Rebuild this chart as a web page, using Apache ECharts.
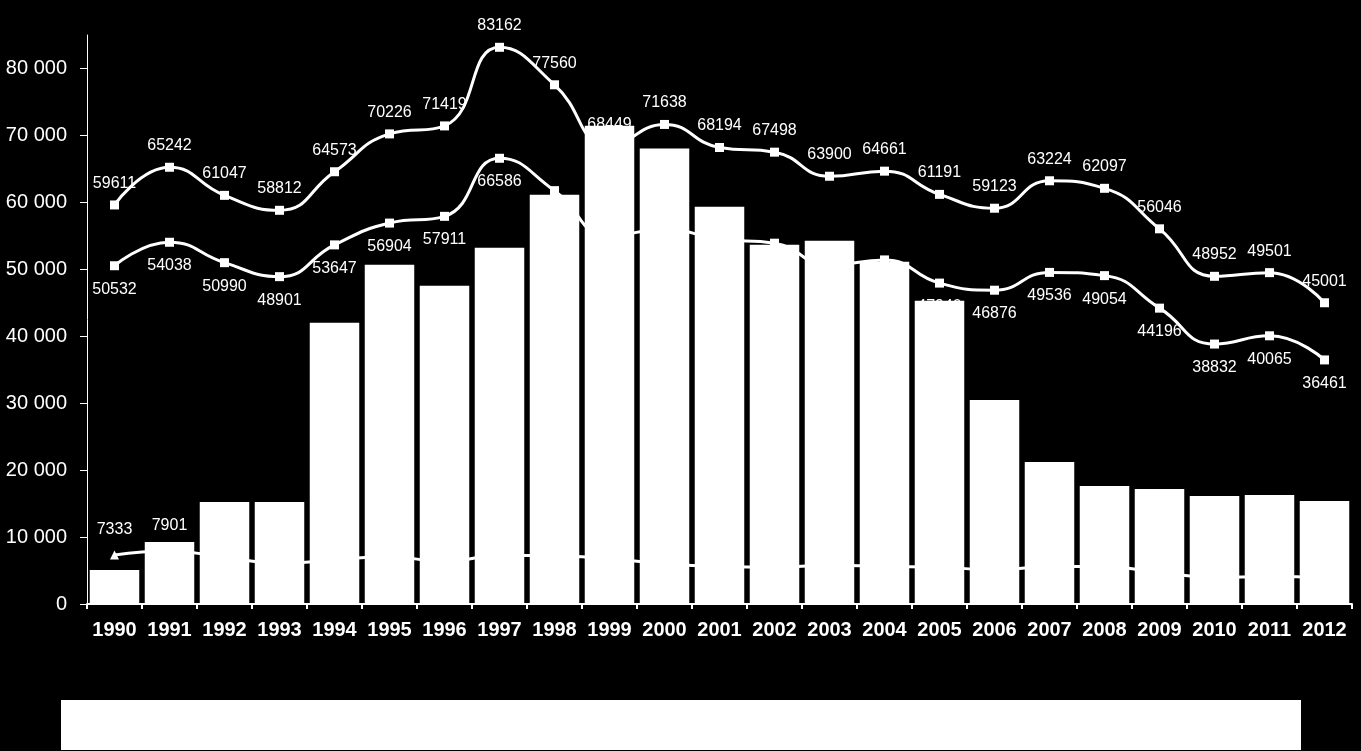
<!DOCTYPE html>
<html>
<head>
<meta charset="utf-8">
<style>
  html, body { margin: 0; padding: 0; background: #000; }
  #chart { width: 1361px; height: 751px; }
</style>
<script src="https://cdn.jsdelivr.net/npm/echarts@6/dist/echarts.min.js"></script>
</head>
<body>
<div id="chart"></div>
<script>
const years = ['1990','1991','1992','1993','1994','1995','1996','1997','1998','1999','2000','2001','2002','2003','2004','2005','2006','2007','2008','2009','2010','2011','2012'];
const barValues = [5080, 9270, 15250, 15250, 42000, 50670, 47530, 53200, 61140, 71450, 68050, 59340, 53660, 54260, 51120, 45290, 30490, 21230, 17640, 17190, 16140, 16290, 15400];
const lineA = [59611, 65242, 61047, 58812, 64573, 70226, 71419, 83162, 77560, 68449, 71638, 68194, 67498, 63900, 64661, 61191, 59123, 63224, 62097, 56046, 48952, 49501, 45001];
const lineB = [50532, 54038, 50990, 48901, 53647, 56904, 57911, 66586, 61750, 55000, 56000, 54500, 53900, 50600, 51400, 47940, 46876, 49536, 49054, 44196, 38832, 40065, 36461];
const lineC = [7333, 7901, 7000, 6100, 6600, 7100, 6300, 7300, 7200, 6800, 6000, 5600, 5500, 5800, 5600, 5500, 5100, 5600, 5600, 4700, 4000, 4100, 3900];
const yTicks = [0, 10000, 20000, 30000, 40000, 50000, 60000, 70000, 80000];

const FONT = 'Liberation Sans, Arial, sans-serif';
const chart = echarts.init(document.getElementById('chart'));

function fmtThousands(v) {
  return String(v).replace(/\B(?=(\d{3})+(?!\d))/g, ' ');
}

const lineLabel = (pos, dist) => ({
  show: true, position: pos, distance: dist,
  color: '#fff', fontSize: 16, fontFamily: FONT
});

chart.setOption({
  backgroundColor: '#000',
  animation: false,
  grid: { left: 87, right: 9, top: 35, bottom: 147, containLabel: false },
  xAxis: {
    type: 'category',
    data: years,
    boundaryGap: true,
    axisLine: { lineStyle: { color: '#fff', width: 2 } },
    axisTick: { show: true, length: 5, lineStyle: { color: '#fff', width: 2 } },
    axisLabel: { color: '#fff', fontSize: 20, fontWeight: 'bold', fontFamily: FONT, margin: 16, interval: 0 },
    splitLine: { show: false }
  },
  yAxis: {
    type: 'value',
    min: 0, max: 85000, interval: 10000,
    axisLine: { show: true, lineStyle: { color: '#fff', width: 1 } },
    axisTick: { show: true, length: 7, customValues: yTicks, lineStyle: { color: '#fff', width: 1 } },
    axisLabel: { color: '#fff', fontSize: 20, fontFamily: FONT, margin: 20, customValues: yTicks, formatter: v => fmtThousands(v) },
    splitLine: { show: false }
  },
  graphic: [{
    type: 'rect', left: 61, top: 700,
    shape: { width: 1240, height: 50 },
    style: { fill: '#fff' }
  }],
  series: [
    {
      name: 'A', type: 'line', data: lineA, z: 1, smooth: 0.5,
      symbol: 'rect', symbolSize: 9,
      lineStyle: { color: '#fff', width: 3 },
      itemStyle: { color: '#fff' },
      label: lineLabel('top', 9)
    },
    {
      name: 'B', type: 'line', data: lineB, z: 1, smooth: 0.5,
      symbol: 'rect', symbolSize: 9,
      lineStyle: { color: '#fff', width: 3 },
      itemStyle: { color: '#fff' },
      label: lineLabel('bottom', 11)
    },
    {
      name: 'C', type: 'line', data: lineC, z: 1, smooth: 0.5,
      symbol: 'triangle', symbolSize: 9,
      lineStyle: { color: '#fff', width: 3 },
      itemStyle: { color: '#fff' },
      label: lineLabel('top', 13)
    },
    {
      name: 'Bars', type: 'bar', data: barValues, z: 2,
      barCategoryGap: '10%',
      itemStyle: { color: '#fff' }
    }
  ]
});
</script>
</body>
</html>
